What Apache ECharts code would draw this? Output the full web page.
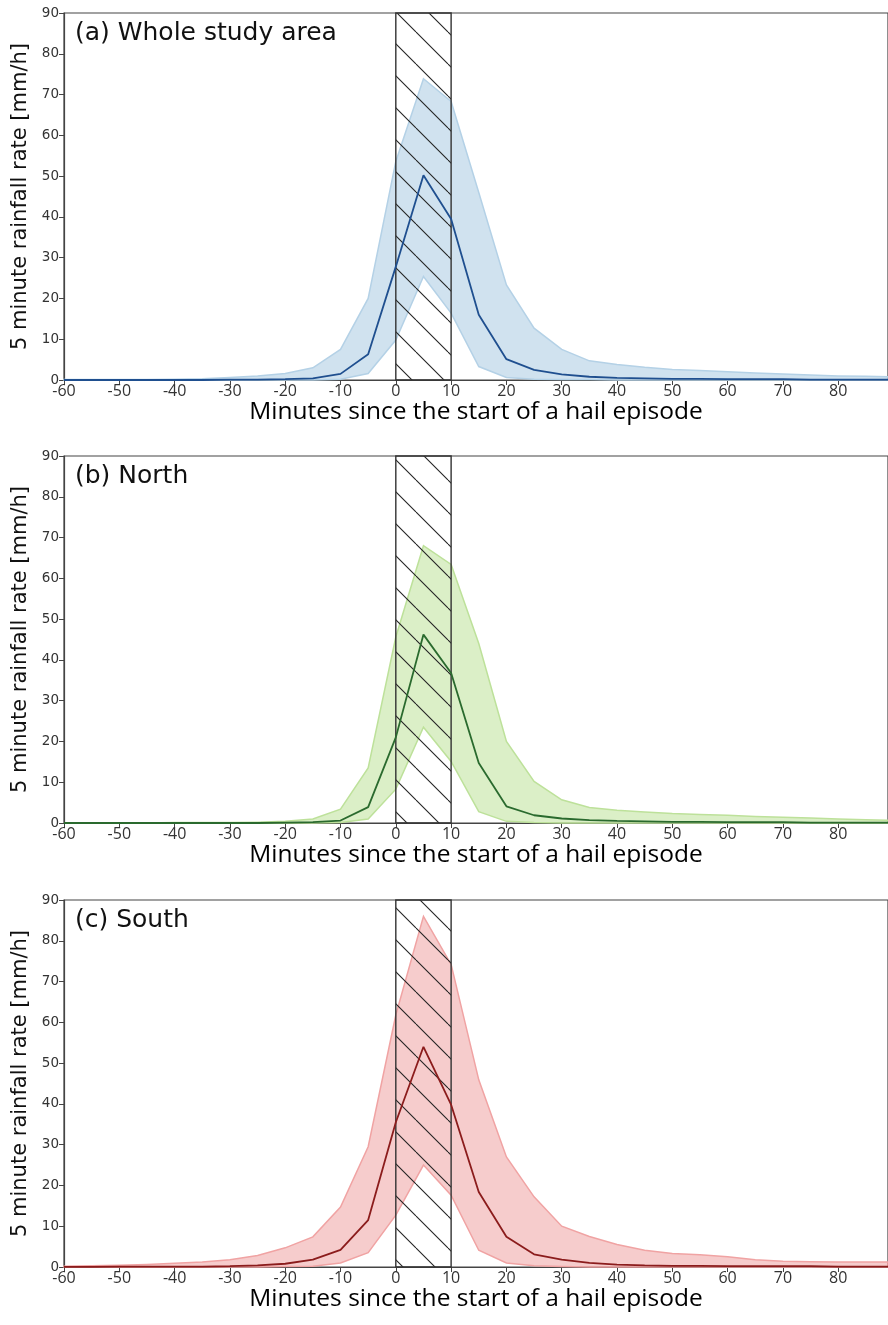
<!DOCTYPE html>
<html>
<head>
<meta charset="utf-8">
<script src="https://cdn.jsdelivr.net/npm/echarts@6/dist/echarts.min.js"></script>
<style>
  html, body { margin: 0; padding: 0; background: #fff; }
  #chart { width: 888px; height: 1325px; }
</style>
</head>
<body>
<div id="chart"></div>
<script>
// 时间轴 (分钟, 相对冰雹开始)
const minutes = [-60,-55,-50,-45,-40,-35,-30,-25,-20,-15,-10,-5,0,5,10,15,20,25,30,35,40,45,50,55,60,65,70,75,80,85,90];

// (a) Whole study area
const wholeLow = [0,0,0,0,0,0,0,0,0,0,0.2,1.6,9.8,25.4,16.4,3.3,0.6,0.2,0.1,0.1,0,0,0,0,0,0,0,0,0,0,0];
const wholeMed = [0,0,0,0,0,0,0.1,0.1,0.2,0.4,1.5,6.3,27.8,50.2,39.5,16,5.1,2.5,1.4,0.8,0.5,0.4,0.3,0.3,0.2,0.2,0.2,0.1,0.1,0.1,0.1];
const wholeUp =  [0.1,0.1,0.1,0.1,0.2,0.3,0.6,1.0,1.6,3.0,7.5,20,53.6,73.9,68.3,46,23.3,12.7,7.5,4.7,3.8,3.1,2.6,2.3,2.0,1.7,1.5,1.2,1.0,0.9,0.8];

// (b) North
const northLow = [0,0,0,0,0,0,0,0,0,0,0.1,1.0,8.3,23.5,15.1,2.8,0.4,0.1,0,0,0,0,0,0,0,0,0,0,0,0,0];
const northMed = [0,0,0,0,0,0,0,0,0.1,0.2,0.6,3.9,21,46.2,36.8,14.7,4.1,1.9,1.1,0.7,0.5,0.4,0.3,0.3,0.2,0.2,0.2,0.1,0.1,0.1,0.1];
const northUp =  [0,0,0,0,0.1,0.1,0.1,0.2,0.4,1.0,3.4,13.5,45.6,68,63.4,44,20,10.2,5.7,3.8,3.1,2.7,2.3,2.1,1.9,1.6,1.4,1.2,1.0,0.8,0.7];

// (c) South
const southLow = [0,0,0,0,0,0,0,0,0.1,0.2,1.0,3.5,12.7,25,17.6,4.1,1.0,0.3,0.1,0,0,0,0,0,0,0,0,0,0,0,0];
const southMed = [0.05,0.05,0.1,0.1,0.1,0.1,0.2,0.4,0.8,1.8,4.2,11.5,35.5,54,39.8,18.4,7.4,3.1,1.8,1.0,0.6,0.4,0.3,0.3,0.2,0.2,0.2,0.2,0.1,0.1,0.1];
const southUp =  [0.2,0.3,0.4,0.6,0.9,1.2,1.8,2.8,4.7,7.4,14.7,29.5,61.8,86,74.2,45.9,27,17.2,10,7.5,5.5,4.1,3.3,3.0,2.5,1.8,1.4,1.3,1.2,1.2,1.2];

const panelTitles = ['(a) Whole study area', '(b) North', '(c) South'];
const hailStart = 0, hailEnd = 10;
const yTicks = [0, 90, 10];
const xTicks = [-60, 89, 10];

const panels = [
  { low: wholeLow, med: wholeMed, up: wholeUp, fill: 'rgba(150,190,220,0.45)', edge: '#b4d1e6', line: '#1f4f8f' },
  { low: northLow, med: northMed, up: northUp, fill: 'rgba(166,214,115,0.40)', edge: '#bde19a', line: '#2a6a2e' },
  { low: southLow, med: southMed, up: southUp, fill: 'rgba(232,120,120,0.38)', edge: '#f0a3a3', line: '#8b1c1c' }
];
const gridTops = [13, 456, 900];
const plotH = 367;

// 斜线填充图案
function hatchPattern() {
  const s = 32;
  const c = document.createElement('canvas');
  c.width = s; c.height = s;
  const ctx = c.getContext('2d');
  ctx.strokeStyle = '#222';
  ctx.lineWidth = 1.1;
  [-s, 0, s].forEach(off => {
    ctx.beginPath();
    ctx.moveTo(off, 0);
    ctx.lineTo(off + s, s);
    ctx.stroke();
  });
  return c;
}
const hatch = hatchPattern();

const pairs = arr => minutes.map((m, i) => [m, arr[i]]);

// 上下分位数之间的填充带 (一个多边形)
function bandRenderer(p) {
  return function (params, api) {
    if (params.dataIndex !== 0) return null;
    const pts = [];
    minutes.forEach((m, i) => pts.push(api.coord([m, p.up[i]])));
    for (let i = minutes.length - 1; i >= 0; i--) pts.push(api.coord([minutes[i], p.low[i]]));
    const cs = params.coordSys;
    return {
      type: 'polygon',
      shape: { points: echarts.graphic.clipPointsByRect(pts, { x: cs.x, y: cs.y, width: cs.width, height: cs.height }) },
      style: { fill: p.fill, stroke: p.edge, lineWidth: 1.5 }
    };
  };
}

const chart = echarts.init(document.getElementById('chart'));
const axisColor = '#444';

const option = {
  animation: false,
  backgroundColor: '#fff',
  title: panelTitles.map((t, i) => ({
    text: t,
    left: 70,
    top: gridTops[i] + 3,
    textStyle: { fontFamily: 'DejaVu Sans', fontSize: 25, fontWeight: 'normal', color: '#111' }
  })),
  grid: gridTops.map(t => ({
    left: 64, right: -2, top: t, height: plotH,
    show: true, borderColor: axisColor, borderWidth: 1.2, backgroundColor: 'transparent'
  })),
  xAxis: gridTops.map((t, i) => ({
    type: 'value', gridIndex: i,
    min: xTicks[0], max: xTicks[1], interval: xTicks[2],
    name: 'Minutes since the start of a hail episode',
    nameLocation: 'middle', nameGap: 20,
    nameTextStyle: { fontFamily: 'Open Sans', fontSize: 24.5, color: '#000' },
    axisLine: { show: true, onZero: false, lineStyle: { color: axisColor, width: 1.2 } },
    axisTick: { show: true, length: 5, lineStyle: { color: axisColor } },
    splitLine: { show: false },
    axisLabel: {
      fontFamily: 'Open Sans', fontSize: 16, color: '#333', margin: 3,
      showMaxLabel: false,
      formatter: v => (v % 10 === 0 ? String(v) : '')
    }
  })),
  yAxis: gridTops.map((t, i) => ({
    type: 'value', gridIndex: i,
    min: yTicks[0], max: yTicks[1], interval: yTicks[2],
    name: '5 minute rainfall rate [mm/h]',
    nameLocation: 'middle', nameGap: 30, nameRotate: 90,
    nameTextStyle: { fontFamily: 'DejaVu Sans', fontSize: 21, color: '#111' },
    axisLine: { show: true, onZero: false, lineStyle: { color: axisColor, width: 1.2 } },
    axisTick: { show: true, length: 5, lineStyle: { color: axisColor } },
    splitLine: { show: false },
    axisLabel: { fontFamily: 'DejaVu Sans', fontSize: 13.5, color: '#333', margin: 5 }
  })),
  series: []
};

panels.forEach((p, i) => {
  option.series.push({
    type: 'custom', xAxisIndex: i, yAxisIndex: i, z: 2, silent: true,
    data: minutes.map((m, k) => [m, p.low[k], p.up[k]]),
    encode: { x: 0, y: [1, 2] },
    renderItem: bandRenderer(p)
  });
  // 中位数 + 冰雹时段阴影
  option.series.push({
    type: 'line', xAxisIndex: i, yAxisIndex: i,
    data: pairs(p.med), symbol: 'none', z: 4,
    lineStyle: { color: p.line, width: 1.8 },
    markArea: {
      silent: true, z: 3,
      itemStyle: { color: { image: hatch, repeat: 'repeat' }, borderColor: '#333', borderWidth: 1.4 },
      data: [[{ xAxis: hailStart }, { xAxis: hailEnd }]]
    }
  });
});

chart.setOption(option);
</script>
</body>
</html>
